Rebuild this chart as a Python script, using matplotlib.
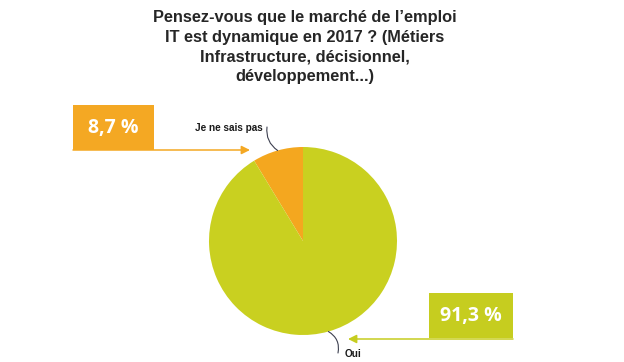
import numpy as np
import matplotlib.pyplot as plt
from matplotlib.patches import Rectangle, FancyArrowPatch

# data
labels = ['Je ne sais pas', 'Oui']
values = [8.7, 91.3]
pct_text = ['8,7 %', '91,3 %']
colors = ['#F4A71F', '#C9D020']
box_colors = ['#F4A823', '#C6CD1F']
title = ("Pensez-vous que le marché de l’emploi\n"
         "IT est dynamique en 2017 ? (Métiers\n"
         "Infrastructure, décisionnel,\n"
         "développement...)")

W, H = 624, 362
fig = plt.figure(figsize=(W / 100, H / 100), dpi=100)
ax = fig.add_axes([0, 0, 1, 1])

center = (303, 121)
radius = 94
wedges, _ = ax.pie(values, colors=colors, startangle=90, counterclock=True,
                   center=center, radius=radius, frame=True)
ax.set_xlim(0, W)
ax.set_ylim(0, H)
ax.set_aspect('equal')
ax.axis('off')

ax.text(305, 315, title, ha='center', va='center', multialignment='center',
        fontsize=11.8, fontweight='bold', color='#262626',
        family='Liberation Sans', linespacing=1.37)

# percentage boxes with arrows
boxes = [(73, 212, 81, 45), (429, 24, 84, 45)]
arrows = [((73, 212), (250, 212)), ((513, 23), (348, 23))]
for (bx, by, bw, bh), c, t, (p0, p1) in zip(boxes, box_colors, pct_text, arrows):
    ax.add_patch(Rectangle((bx, by), bw, bh, facecolor=c, edgecolor='none'))
    ax.text(bx + bw / 2, by + bh / 2, t, ha='center', va='center',
            fontsize=14, fontweight='bold', color='white', family='Open Sans')
    ax.add_patch(FancyArrowPatch(p0, p1, arrowstyle='-|>,head_length=5,head_width=2.5',
                                 mutation_scale=1, color=c, lw=1.1,
                                 shrinkA=0, shrinkB=0))

# category labels with leader lines from wedge midpoints
label_pos = [(263, 234, 'right', 0.3), (345, 8, 'left', 0.35)]
for w, lab, (lx, ly, ha, rad) in zip(wedges, labels, label_pos):
    ang = np.deg2rad((w.theta1 + w.theta2) / 2)
    ex = center[0] + radius * np.cos(ang)
    ey = center[1] + radius * np.sin(ang)
    ax.text(lx, ly, lab, ha=ha, va='center', fontsize=7.2, fontweight='bold',
            color='#1a1a1a', family='Liberation Sans')
    sx = lx + 4 if ha == 'right' else lx - 7
    ax.annotate('', xy=(ex, ey), xytext=(sx, ly + 1),
                arrowprops=dict(arrowstyle='-', color='#3d4050', lw=0.8,
                                connectionstyle=f'arc3,rad={rad}',
                                shrinkA=0, shrinkB=0))

fig.savefig('out.png', dpi=100)
